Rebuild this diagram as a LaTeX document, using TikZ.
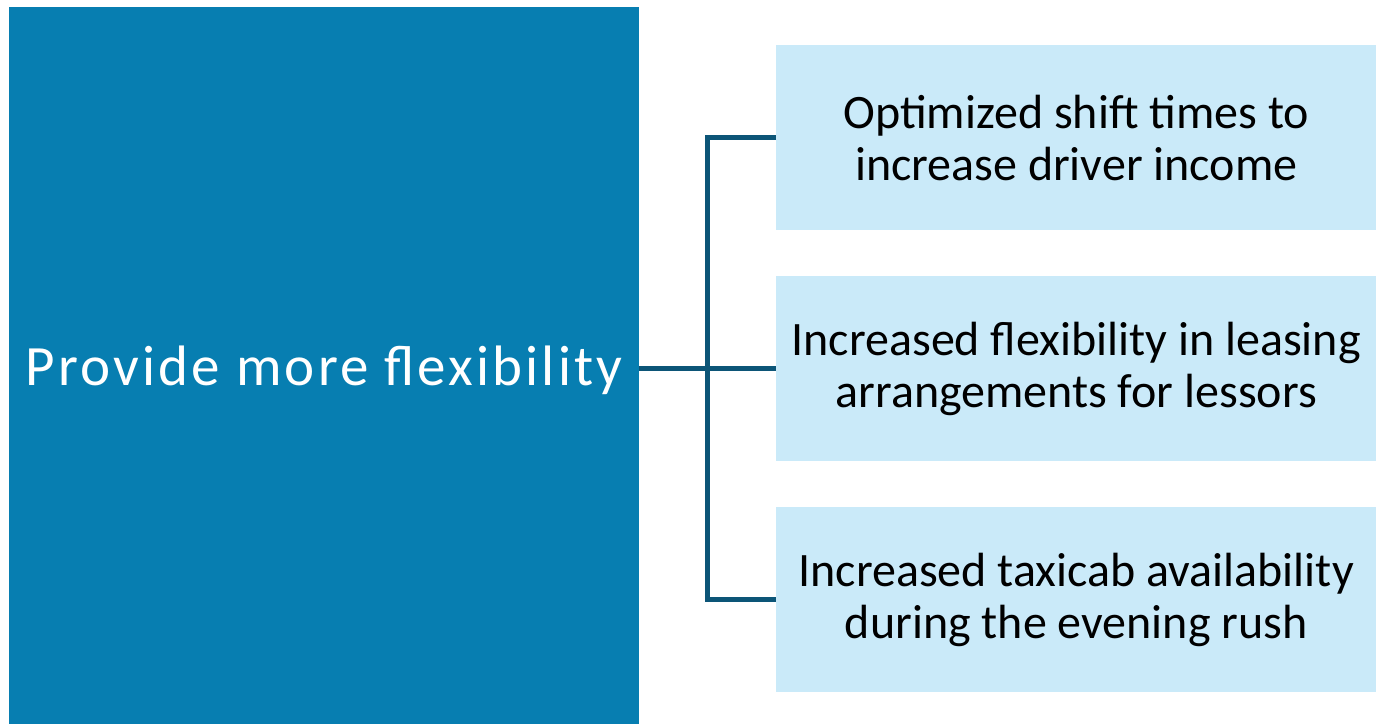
\documentclass[tikz,border=0pt]{standalone}
\usepackage{fontspec}
\setmainfont{Carlito}
\usepackage{tikz}
\definecolor{mainblue}{RGB}{7,126,177}
\definecolor{paleblue}{RGB}{202,234,249}
\definecolor{linkblue}{RGB}{12,85,119}
\tikzset{
  mainbox/.style={fill=mainblue, text=white, minimum width=630pt, minimum height=717pt,
    anchor=north west, inner sep=0pt, text depth=0pt,
    font=\fontsize{57}{68}\selectfont\addfontfeatures{LetterSpace=5.5}},
  subbox/.style={fill=paleblue, text=black, minimum width=600pt, minimum height=185pt,
    anchor=north west, inner sep=0pt, align=center, font=\fontsize{48}{52}\selectfont},
  link/.style={draw=linkblue, line width=5pt}
}
\begin{document}
\begin{tikzpicture}[x=1pt,y=-1pt]
\useasboundingbox (0,0) rectangle (1376,724);
\node[mainbox] (goal) at (9,7) {Provide more flexibility};
\node[subbox] (shift) at (776,45) {Optimized shift times to\\increase driver income};
\node[subbox] (lease) at (776,276) {Increased flexibility in leasing\\arrangements for lessors};
\node[subbox] (rush) at (776,507) {Increased taxicab availability\\during the evening rush};
\coordinate (bus) at (707,368);
\draw[link] (goal.east |- lease.west) -- (lease.west);
\draw[link] (shift.west) -| (rush.west -| bus) -- (rush.west);
\end{tikzpicture}
\end{document}
